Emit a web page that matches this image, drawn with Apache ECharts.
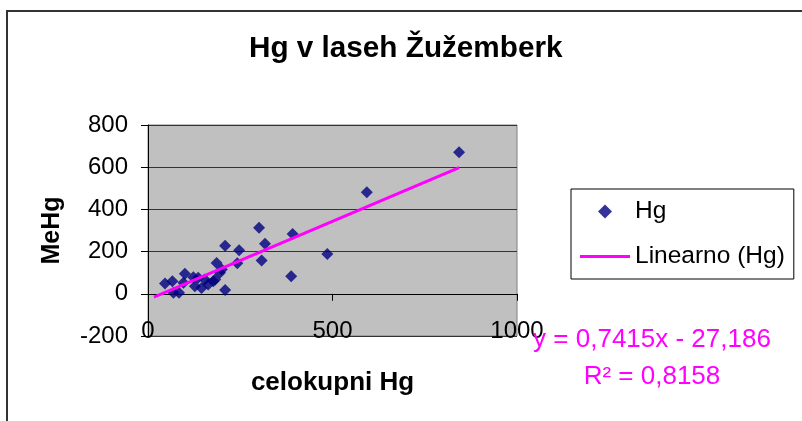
<!DOCTYPE html>
<html><head><meta charset="utf-8">
<script src="https://cdn.jsdelivr.net/npm/echarts@6/dist/echarts.min.js"></script>
<style>html,body{margin:0;padding:0;background:#fff}#c{width:802px;height:421px}</style>
</head><body><div id="c"></div>
<script>
const chartTitle = 'Hg v laseh Žužemberk';
const xName = 'celokupni Hg';
const yName = 'MeHg';
const seriesName = 'Hg';
const trendName = 'Linearno (Hg)';
// total Hg (x) and MeHg (y)
const hgTotal = [843, 593, 301, 392, 317, 209, 247, 486, 308, 388, 186, 242, 209,
                 46, 66, 69, 84, 100, 96, 123, 136, 127, 145, 163, 177, 195, 200, 154, 182];
const meHg    = [671, 481, 313, 284, 237, 228, 206, 189, 158, 83, 146, 145, 18,
                 49, 60, 5, 5, 95, 52, 79, 76, 36, 28, 44, 60, 100, 115, 68, 68];
const slope = 0.7415, intercept = -27.186, rSquared = 0.8158;
const trendX = [16, 843];
const eqText = 'y = 0,7415x - 27,186';
const r2Text = 'R² = 0,8158';
const xMin = 0, xMax = 1000, xStep = 500;
const yMin = -200, yMax = 800, yStep = 200;

const FF = '"Liberation Sans", Arial, sans-serif';
const scatterData = hgTotal.map((x, i) => [x, meHg[i]]);
const trendData = trendX.map(x => [x, slope * x + intercept]);

const chart = echarts.init(document.getElementById('c'), null, {renderer: 'canvas'});
chart.setOption({
  animation: false,
  backgroundColor: '#fff',
  title: {
    text: chartTitle, left: 249, top: 34, padding: 0,
    textStyle: {fontFamily: FF, fontSize: 29.7, fontWeight: 'bold', color: '#000'}
  },
  legend: {
    orient: 'vertical', left: 571, top: 189,
    padding: [10, 9, 10, 9], itemGap: 20, itemWidth: 50, itemHeight: 14,
    borderColor: '#000', borderWidth: 1,
    textStyle: {fontFamily: FF, fontSize: 24.5, color: '#000'},
    data: [
      {name: seriesName, icon: 'path://M0,0 M50,14 M18,7 L25,0 L32,7 L25,14 Z'},
      {name: trendName, icon: 'path://M0,0 M50,14 M0,5.5 L50,5.5 L50,8.5 L0,8.5 Z'}
    ]
  },
  grid: {left: 148, right: 285, top: 125, bottom: 85, show: true,
         backgroundColor: '#c0c0c0', borderColor: '#808080', borderWidth: 1},
  xAxis: [{
    type: 'value', min: xMin, max: xMax, interval: xStep,
    axisLine: {show: true, onZero: true, lineStyle: {color: '#000', width: 1}},
    axisTick: {show: true, length: 7, lineStyle: {color: '#000'}},
    axisLabel: {show: false}, splitLine: {show: false}
  }, {
    type: 'value', min: xMin, max: xMax, interval: xStep, position: 'bottom',
    axisLine: {show: false, onZero: false}, axisTick: {show: false},
    axisLabel: {show: true, fontFamily: FF, fontSize: 24, color: '#000', margin: -17,
                formatter: v => String(v)},
    splitLine: {show: false},
    name: xName, nameLocation: 'middle', nameGap: 34,
    nameTextStyle: {fontFamily: FF, fontSize: 26, fontWeight: 'bold', color: '#000'}
  }],
  yAxis: {
    type: 'value', min: yMin, max: yMax, interval: yStep,
    axisLine: {show: true, onZero: false, lineStyle: {color: '#000', width: 1}},
    axisTick: {show: true, length: 7, lineStyle: {color: '#000'}},
    axisLabel: {fontFamily: FF, fontSize: 24, color: '#000', margin: 20,
                formatter: v => String(v)},
    splitLine: {show: true, lineStyle: {color: '#333', width: 1}},
    name: yName, nameLocation: 'middle', nameRotate: 90, nameGap: 83,
    nameTextStyle: {fontFamily: FF, fontSize: 25, fontWeight: 'bold', color: '#000'}
  },
  series: [{
    name: seriesName, type: 'scatter', xAxisIndex: 0, symbol: 'diamond', symbolSize: 12,
    itemStyle: {color: '#000080'}, data: scatterData, z: 3
  }, {
    name: trendName, type: 'line', xAxisIndex: 0, showSymbol: false, symbol: 'none',
    lineStyle: {color: '#ff00ff', width: 3}, itemStyle: {color: '#ff00ff'},
    data: trendData, z: 4
  }],
  graphic: [{
    type: 'rect', silent: true, shape: {x: 7, y: 11, width: 1000, height: 1000},
    style: {fill: 'none', stroke: '#333', lineWidth: 2}, z: 100
  }, {
    type: 'text', x: 652, y: 340, z: 100,
    style: {text: eqText, fill: '#ff00ff', font: '26px ' + FF, textAlign: 'center', textVerticalAlign: 'middle'}
  }, {
    type: 'text', x: 652, y: 377, z: 100,
    style: {text: r2Text, fill: '#ff00ff', font: '26px ' + FF, textAlign: 'center', textVerticalAlign: 'middle'}
  }]
});
</script></body></html>
